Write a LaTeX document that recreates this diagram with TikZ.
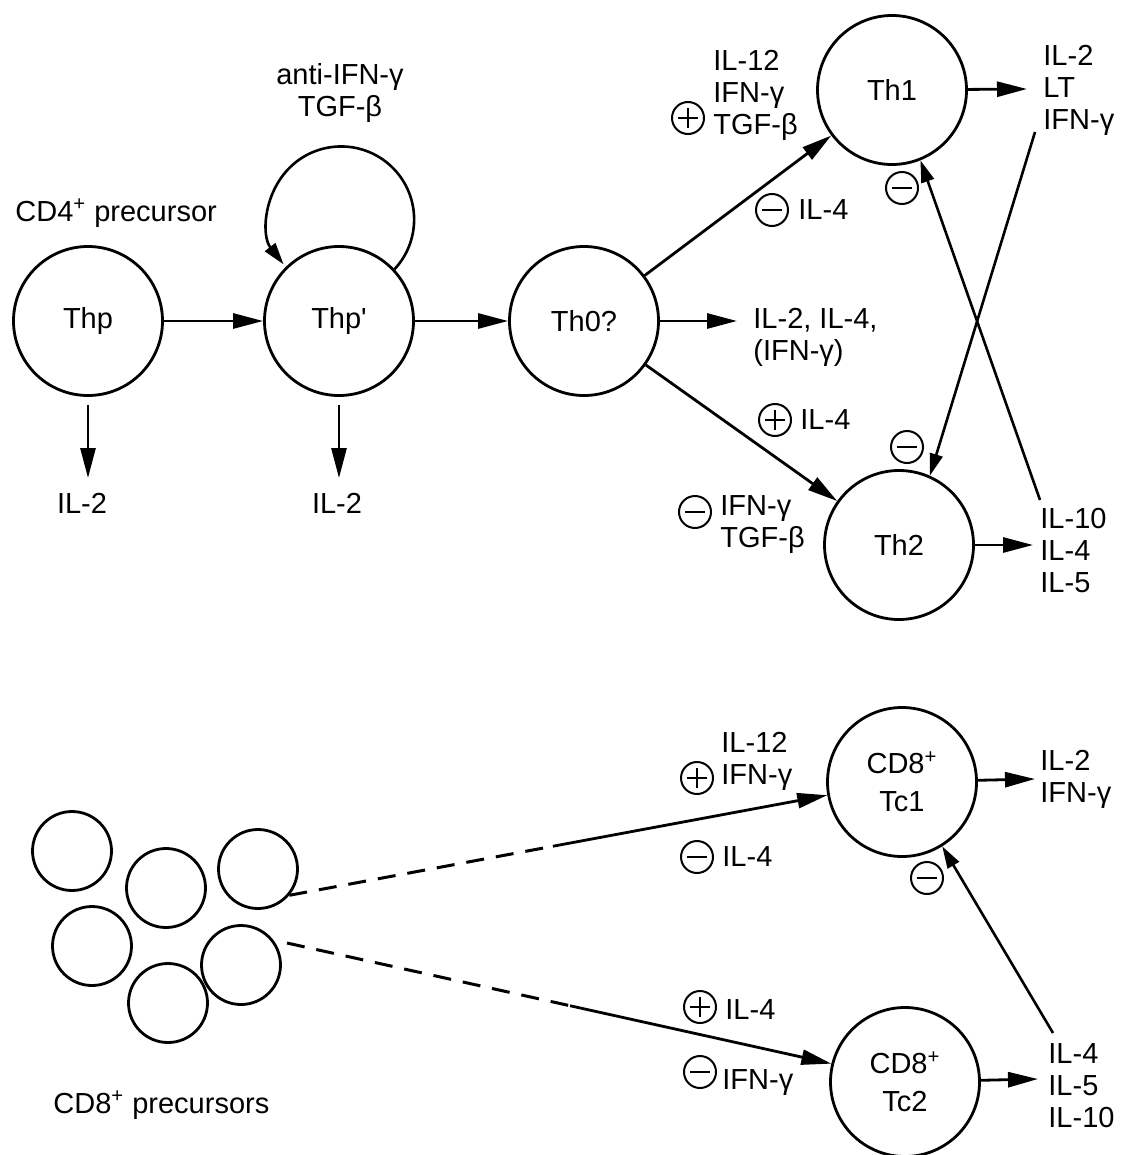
\documentclass[tikz,border=0pt]{standalone}
\usepackage{fontspec}
\setmainfont{Liberation Sans}
\usetikzlibrary{arrows.meta,calc}
\begin{document}
\begin{tikzpicture}[x=0.5pt,y=-0.5pt,
  cell/.style={circle,draw,line width=1.4pt,minimum size=74.5pt,inner sep=0pt,font=\fontsize{14.5}{19}\selectfont,align=center},
  pcell/.style={circle,draw,line width=1.4pt,minimum size=39.5pt,inner sep=0pt},
  lab/.style={inner sep=0pt,font=\fontsize{14.5}{16}\selectfont},
  arr/.style={line width=1.4pt,-{Triangle[length=15pt,width=7.5pt]}},
  sarr/.style={line width=1.3pt,-{Triangle[length=11pt,width=6.5pt]}},
  dsh/.style={line width=1.5pt,dash pattern=on 9pt off 6pt},
  pm/.style={circle,draw,line width=1pt,minimum size=16pt,inner sep=0pt},
  negsign/.style={pm,path picture={\draw[line width=1.3pt] ([xshift=-5pt]path picture bounding box.center) -- ([xshift=5pt]path picture bounding box.center);}},
  possign/.style={pm,path picture={\draw[line width=1.3pt] ([xshift=-5pt]path picture bounding box.center) -- ([xshift=5pt]path picture bounding box.center) ([yshift=-5pt]path picture bounding box.center) -- ([yshift=5pt]path picture bounding box.center);}}
]
\useasboundingbox (0,0) rectangle (1121,1155);

% ---------- CD4 part ----------
\node[cell] (thp)  at (88,321)  {Thp};
\node[cell] (thpp) at (339,321) {Thp\textquotesingle};
\node[cell] (th0)  at (584,321) {Th0?};
\node[cell] (th1)  at (892,90)  {Th1};
\node[cell] (th2)  at (899,545) {Th2};

\node[lab,anchor=west] (cd4) at (15,213) {CD4\textsuperscript{+} precursor};
\node[lab,align=center] (loopl) at (340,93) {anti-IFN-γ\\TGF-β};

\coordinate (i1) at (88,478);
\coordinate (i2) at (339,478);
\node[lab] (il2a) at (82,503) {IL-2};
\node[lab] (il2b) at (337,503) {IL-2};
\draw[arr,shorten <=4pt] (thp) -- (i1);
\draw[arr,shorten <=4pt] (thpp) -- (i2);

\draw[arr] (thp) -- (thpp);
\draw[arr] (thpp) -- (th0);
\draw[sarr] (thpp.43) arc[start angle=43,end angle=-218,radius=73];

\coordinate (o0) at (737,321);
\draw[arr] (th0) -- (o0);
\node[lab,anchor=west,align=left] (out0) at (753,337) {IL-2, IL-4,\\(IFN-γ)};

\draw[arr] (th0) -- (th1);
\draw[arr] (th0) -- (th2);

% Th1 inputs
\node[lab,anchor=west,align=left] (th1in) at (713,95) {IL-12\\IFN-γ\\TGF-β};
\node[possign] (s1) at (688,118) {};
\node[negsign] (s2) at (772,210) {};
\node[lab,anchor=west] (th1il4) at (798,210) {IL-4};

% Th2 inputs
\node[possign] (s3) at (775,420) {};
\node[lab,anchor=west] (th2il4) at (800,420) {IL-4};
\node[negsign] (s4) at (695,512) {};
\node[lab,anchor=west,align=left] (th2in) at (720,525) {IFN-γ\\TGF-β};

% outputs
\coordinate (o1) at (1027,89);
\coordinate (o2) at (1033,545);
\draw[arr] (th1) -- (o1);
\draw[arr] (th2) -- (o2);
\node[lab,anchor=west,align=left] (th1out) at (1043,90) {IL-2\\LT\\IFN-γ};
\node[lab,anchor=west,align=left] (th2out) at (1040,551) {IL-10\\IL-4\\IL-5};

% cross regulation
\coordinate (c1) at (1035,132);
\coordinate (c2) at (1040,500);
\draw[sarr] (c1) -- (th2.66);
\draw[sarr] (c2) -- (th1.-68);
\node[negsign] (s5) at (902,188) {};
\node[negsign] (s6) at (907,447) {};

% ---------- CD8 part ----------
\node[pcell] (p1) at (72,851) {};
\node[pcell] (p2) at (166,888) {};
\node[pcell] (p3) at (258,869) {};
\node[pcell] (p4) at (92,946) {};
\node[pcell] (p5) at (241,965) {};
\node[pcell] (p6) at (168,1003) {};
\node[lab,anchor=west] (cd8) at (53,1105) {CD8\textsuperscript{+} precursors};

\node[cell] (tc1) at (902,782) {CD8\textsuperscript{+}\\Tc1};
\node[cell] (tc2) at (905,1082) {CD8\textsuperscript{+}\\Tc2};

\coordinate (d1s) at (p3.-40);
\coordinate (d1e) at (tc1.190);
\draw[dsh] (d1s) -- ($(d1s)!0.49!(d1e)$) coordinate (d1m);
\draw[arr] (d1m) -- (d1e);

\coordinate (d2s) at (287,943);
\coordinate (d2e) at (tc2.166);
\draw[dsh] (d2s) -- ($(d2s)!0.52!(d2e)$) coordinate (d2m);
\draw[arr] (d2m) -- (d2e);

% Tc1 inputs
\node[lab,anchor=west,align=left] (tc1in) at (721,761) {IL-12\\IFN-γ};
\node[possign] (s7) at (697,778) {};
\node[negsign] (s8) at (697,857) {};
\node[lab,anchor=west] (tc1il4) at (722,857) {IL-4};

% Tc2 inputs
\node[possign] (s9) at (700,1007) {};
\node[lab,anchor=west] (tc2il4) at (725,1010) {IL-4};
\node[negsign] (s10) at (700,1072) {};
\node[lab,anchor=west] (tc2ifn) at (722,1083) {IFN-γ};

% outputs
\coordinate (o3) at (1035,779);
\coordinate (o4) at (1038,1079);
\draw[arr] (tc1) -- (o3);
\draw[arr] (tc2) -- (o4);
\node[lab,anchor=west,align=left] (tc1out) at (1040,779) {IL-2\\IFN-γ};
\node[lab,anchor=west,align=left] (tc2out) at (1048,1086) {IL-4\\IL-5\\IL-10};

\coordinate (c3) at (1053,1033);
\draw[sarr] (c3) -- (tc1.-58);
\node[negsign] (s11) at (927,878) {};
\end{tikzpicture}
\end{document}
